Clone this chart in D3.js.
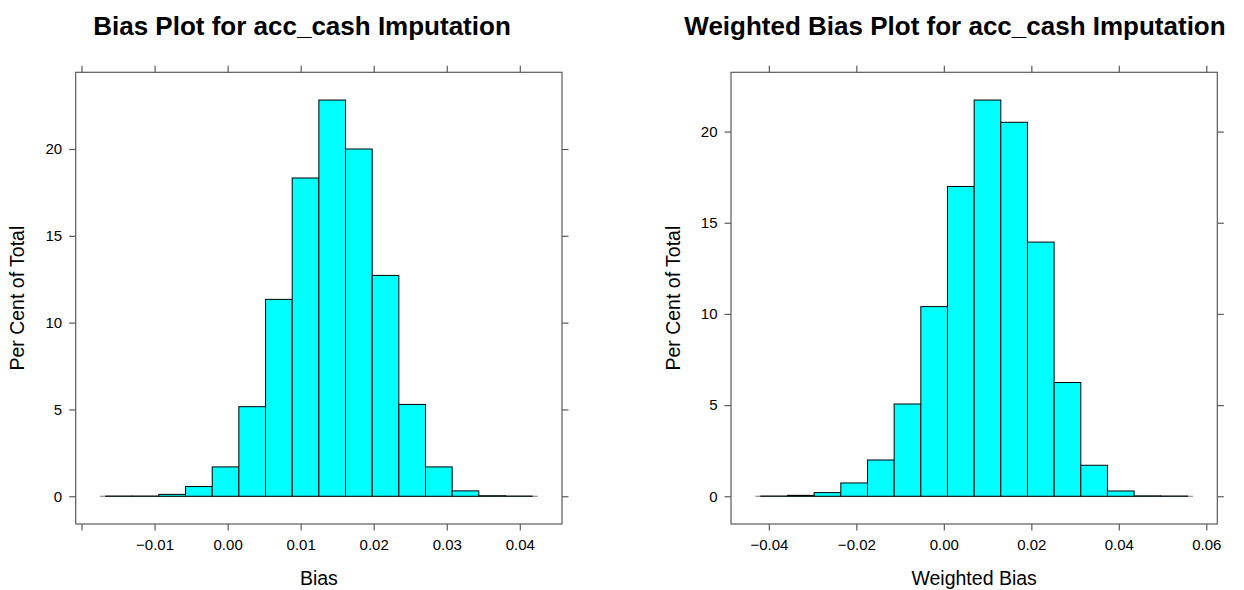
<!DOCTYPE html>
<html>
<head>
<meta charset="utf-8">
<script src="https://cdn.jsdelivr.net/npm/d3@7"></script>
<style>
  html, body { margin: 0; padding: 0; background: #fff; }
  svg text { font-family: "Liberation Sans", Arial, Helvetica, sans-serif; fill: #000; }
</style>
</head>
<body>
<svg id="chart" width="1244" height="590"></svg>
<script>
// ---- Data ----
const biasBreaks = [-0.01671, -0.01306, -0.00941, -0.00576, -0.00211, 0.00154, 0.00519, 0.00884,
                    0.01249, 0.01614, 0.01979, 0.02344, 0.02709, 0.03074, 0.03439, 0.03804, 0.04169];
const biasPercent = [0.01, 0.01, 0.11, 0.56, 1.69, 5.16, 11.34, 18.33, 22.82, 20.0, 12.72, 5.29, 1.69, 0.31, 0.03, 0.01];
const biasXTicks = [-0.02, -0.01, 0.00, 0.01, 0.02, 0.03, 0.04];
const biasXLabels = ["", "\u22120.01", "0.00", "0.01", "0.02", "0.03", "0.04"];

const wBiasBreaks = [-0.04183, -0.03574, -0.02964, -0.02355, -0.01745, -0.01136, -0.00526, 0.00083,
                     0.00693, 0.01302, 0.01912, 0.02521, 0.03131, 0.0374, 0.0435, 0.04959, 0.05569];
const wBiasPercent = [0.01, 0.05, 0.2, 0.73, 1.99, 5.06, 10.4, 16.99, 21.73, 20.51, 13.94, 6.24, 1.70, 0.29, 0.02, 0.01];
const wBiasXTicks = [-0.04, -0.02, 0.00, 0.02, 0.04, 0.06];
const wBiasXLabels = ["\u22120.04", "\u22120.02", "0.00", "0.02", "0.04", "0.06"];

const yTicks = [0, 5, 10, 15, 20];
const yLabels = ["0", "5", "10", "15", "20"];

const titles = ["Bias Plot for acc_cash Imputation", "Weighted Bias Plot for acc_cash Imputation"];
const xTitles = ["Bias", "Weighted Bias"];
const yTitle = "Per Cent of Total";

// ---- Layout ----
const svg = d3.select("#chart");
const panels = [
  { breaks: biasBreaks, values: biasPercent, xt: biasXTicks, xl: biasXLabels,
    left: 75.7, right: 562, title: titles[0], titleX: 302, xTitle: xTitles[0], yTitleX: 23.5 },
  { breaks: wBiasBreaks, values: wBiasPercent, xt: wBiasXTicks, xl: wBiasXLabels,
    left: 731, right: 1217.3, title: titles[1], titleX: 955, xTitle: xTitles[1], yTitleX: 679.5 }
];
const panelTop = 72.3, panelBottom = 524;
const axisCol = "#5a5a5a";
const tickLen = 6.5;

panels.forEach(p => {
  const lo = p.breaks[0], hi = p.breaks[p.breaks.length - 1];
  const padX = (hi - lo) * 0.07;
  const x = d3.scaleLinear().domain([lo - padX, hi + padX]).range([p.left, p.right]);
  const ymax = d3.max(p.values);
  const padY = ymax * 0.07;
  const y = d3.scaleLinear().domain([-padY, ymax + padY]).range([panelBottom, panelTop]);

  const g = svg.append("g");

  // baseline line
  g.append("line")
    .attr("x1", x(lo) - 5.5).attr("x2", x(hi) + 5.5)
    .attr("y1", y(0)).attr("y2", y(0))
    .attr("stroke", "#7a7a7a").attr("stroke-width", 1.2);

  // bars
  const bins = p.values.map((v, i) => ({ x0: p.breaks[i], x1: p.breaks[i + 1], v }));
  g.selectAll("rect.bar").data(bins).enter().append("rect")
    .attr("class", "bar")
    .attr("x", d => x(d.x0))
    .attr("width", d => x(d.x1) - x(d.x0))
    .attr("y", d => y(d.v))
    .attr("height", d => y(0) - y(d.v))
    .attr("fill", "#00FFFF")
    .attr("stroke", "#000")
    .attr("stroke-width", 1);

  // panel box
  g.append("rect")
    .attr("x", p.left).attr("y", panelTop)
    .attr("width", p.right - p.left).attr("height", panelBottom - panelTop)
    .attr("fill", "none").attr("stroke", axisCol).attr("stroke-width", 1.2);

  // x axes (bottom with labels, top ticks only)
  const xAxisB = d3.axisBottom(x).tickValues(p.xt).tickSize(tickLen).tickPadding(8.5)
    .tickFormat((d, i) => p.xl[i]);
  const gb = g.append("g").attr("transform", `translate(0,${panelBottom})`).call(xAxisB);
  const xAxisT = d3.axisTop(x).tickValues(p.xt).tickSize(tickLen).tickFormat("");
  const gt = g.append("g").attr("transform", `translate(0,${panelTop})`).call(xAxisT);

  // y axes (left with labels, right ticks only)
  const yAxisL = d3.axisLeft(y).tickValues(yTicks).tickSize(tickLen).tickPadding(7)
    .tickFormat((d, i) => yLabels[i]);
  const gl = g.append("g").attr("transform", `translate(${p.left},0)`).call(yAxisL);
  const yAxisR = d3.axisRight(y).tickValues(yTicks).tickSize(tickLen).tickFormat("");
  const gr = g.append("g").attr("transform", `translate(${p.right},0)`).call(yAxisR);

  [gb, gt, gl, gr].forEach(a => {
    a.select(".domain").remove();
    a.selectAll(".tick line").attr("stroke", axisCol).attr("stroke-width", 1.2);
    a.selectAll(".tick text").attr("font-size", 15).attr("fill", "#000")
      .style("font-family", '"Liberation Sans", Arial, sans-serif');
  });

  // titles
  g.append("text").attr("x", p.titleX).attr("y", 34.5)
    .attr("text-anchor", "middle").attr("font-size", 26).attr("font-weight", "bold")
    .text(p.title);
  g.append("text").attr("x", (p.left + p.right) / 2).attr("y", 585)
    .attr("text-anchor", "middle").attr("font-size", 19.5)
    .text(p.xTitle);
  g.append("text")
    .attr("transform", `translate(${p.yTitleX},${(panelTop + panelBottom) / 2}) rotate(-90)`)
    .attr("text-anchor", "middle").attr("font-size", 19.5)
    .text(yTitle);
});
</script>
</body>
</html>
